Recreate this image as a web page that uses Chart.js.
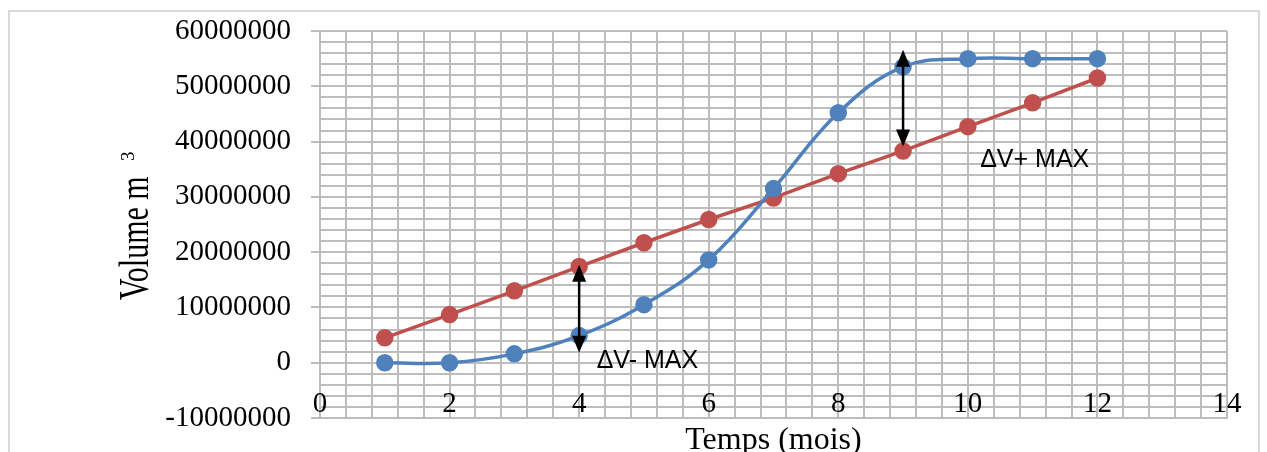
<!DOCTYPE html>
<html>
<head>
<meta charset="utf-8">
<script src="https://cdn.jsdelivr.net/npm/chart.js@4.4.0/dist/chart.umd.min.js"></script>
<style>
  html, body { margin: 0; padding: 0; background: #fff; }
  #wrap { position: relative; width: 1267px; height: 452px; }
</style>
</head>
<body>
<div id="wrap"><canvas id="myChart"></canvas></div>
<script>
// data
var months = [1, 2, 3, 4, 5, 6, 7, 8, 9, 10, 11, 12];
var volumeBlue = [0, 0, 1600000, 4900000, 10500000, 18600000, 31500000, 45200000, 53500000, 55000000, 55000000, 55000000];
var volumeRed = [4500000, 8700000, 13000000, 17400000, 21700000, 25900000, 29800000, 34200000, 38300000, 42700000, 47000000, 51500000];
var xTickLabels = [0, 2, 4, 6, 8, 10, 12, 14];
var yTickLabels = [-10000000, 0, 10000000, 20000000, 30000000, 40000000, 50000000, 60000000];

// arrows and notes, in data units
var arrows = [
  { x: 4, yTop: 17700000, yBottom: 1800000 },
  { x: 9, yTop: 56600000, yBottom: 39100000 }
];
var notes = [
  { text: 'ΔV- MAX', x: 4.27, y: -900000 },
  { text: 'ΔV+ MAX', x: 10.19, y: 35400000 }
];

var gridColor = '#bdbdbd';
var serif = '"Liberation Serif", "Times New Roman", serif';

function toPoints(xs, ys) {
  return xs.map(function (v, i) { return { x: v, y: ys[i] }; });
}

var extras = {
  id: 'extras',
  beforeDraw: function (chart) {
    var c = chart.ctx;
    c.save();
    c.strokeStyle = '#d9d9d9';
    c.lineWidth = 2;
    c.strokeRect(9, 11, 1250, 500);
    c.restore();
  },
  afterDatasetsDraw: function (chart) {
    var c = chart.ctx;
    var xs = chart.scales.x, ys = chart.scales.y;
    c.save();
    c.fillStyle = '#000';
    c.strokeStyle = '#000';
    c.lineWidth = 2.5;
    arrows.forEach(function (a) {
      var px = xs.getPixelForValue(a.x);
      var top = ys.getPixelForValue(a.yTop);
      var bot = ys.getPixelForValue(a.yBottom);
      c.beginPath();
      c.moveTo(px, top + 10);
      c.lineTo(px, bot - 10);
      c.stroke();
      c.beginPath();
      c.moveTo(px, top);
      c.lineTo(px - 7, top + 17);
      c.lineTo(px + 7, top + 17);
      c.closePath();
      c.fill();
      c.beginPath();
      c.moveTo(px, bot);
      c.lineTo(px - 7, bot - 17);
      c.lineTo(px + 7, bot - 17);
      c.closePath();
      c.fill();
    });
    c.font = '25px "Liberation Sans", Arial, sans-serif';
    c.textAlign = 'left';
    c.textBaseline = 'alphabetic';
    notes.forEach(function (n) {
      c.fillText(n.text, xs.getPixelForValue(n.x), ys.getPixelForValue(n.y));
    });

    // x tick labels sit inside the plot, just above the bottom line
    c.font = '29px ' + serif;
    c.textAlign = 'center';
    xTickLabels.forEach(function (v) {
      c.fillText(String(v), xs.getPixelForValue(v), chart.chartArea.bottom - 6);
    });

    // axis titles
    c.font = '32px ' + serif;
    c.fillText('Temps (mois)', (chart.chartArea.left + chart.chartArea.right) / 2, 449);

    c.translate(148, 300);
    c.rotate(-Math.PI / 2);
    c.textAlign = 'left';
    c.font = '30px ' + serif;
    c.save();
    c.scale(1, 1.4);
    c.fillText('Volume m', 0, 0);
    c.restore();
    c.font = '19px ' + serif;
    c.fillText('3', 139, -14);
    c.restore();
  }
};

var ctx = document.getElementById('myChart').getContext('2d');
var myChart = new Chart(ctx, {
  type: 'line',
  data: {
    datasets: [{
      label: 'Volume',
      data: toPoints(months, volumeBlue),
      borderColor: '#4F81BD',
      backgroundColor: '#4F81BD',
      borderWidth: 3.5,
      pointRadius: 7,
      pointHoverRadius: 7,
      tension: 0.4
    }, {
      label: 'Régularisé',
      data: toPoints(months, volumeRed),
      borderColor: '#C0504D',
      backgroundColor: '#C0504D',
      borderWidth: 3.5,
      pointRadius: 7,
      pointHoverRadius: 7,
      tension: 0
    }]
  },
  options: {
    responsive: true,
    maintainAspectRatio: false,
    animation: false,
    layout: { padding: { top: 31, right: 40, bottom: 0, left: 0 } },
    plugins: {
      legend: { display: false },
      tooltip: { enabled: false }
    },
    scales: {
      x: {
        type: 'linear',
        min: 0,
        max: 14,
        afterFit: function (s) { s.height = 34; },
        grid: { color: gridColor, lineWidth: 2, drawTicks: false },
        border: { color: gridColor, width: 2 },
        ticks: {
          stepSize: 0.4,
          autoSkip: false,
          maxRotation: 0,
          font: { family: serif, size: 10 },
          callback: function () { return ''; }
        }
      },
      y: {
        min: -10000000,
        max: 60000000,
        afterFit: function (s) { s.width = 320; },
        grid: {
          color: gridColor,
          lineWidth: 2,
          tickLength: 9,
          tickColor: function (c) {
            return (c.tick && yTickLabels.indexOf(c.tick.value) >= 0) ? gridColor : 'rgba(0,0,0,0)';
          }
        },
        border: { color: gridColor, width: 2 },
        ticks: {
          stepSize: 2000000,
          autoSkip: false,
          padding: 20,
          color: '#000',
          font: { family: serif, size: 29, lineHeight: 0.72 },
          callback: function (v) {
            return yTickLabels.indexOf(v) >= 0 ? String(v) : '';
          }
        }
      }
    }
  },
  plugins: [extras]
});
</script>
</body>
</html>
